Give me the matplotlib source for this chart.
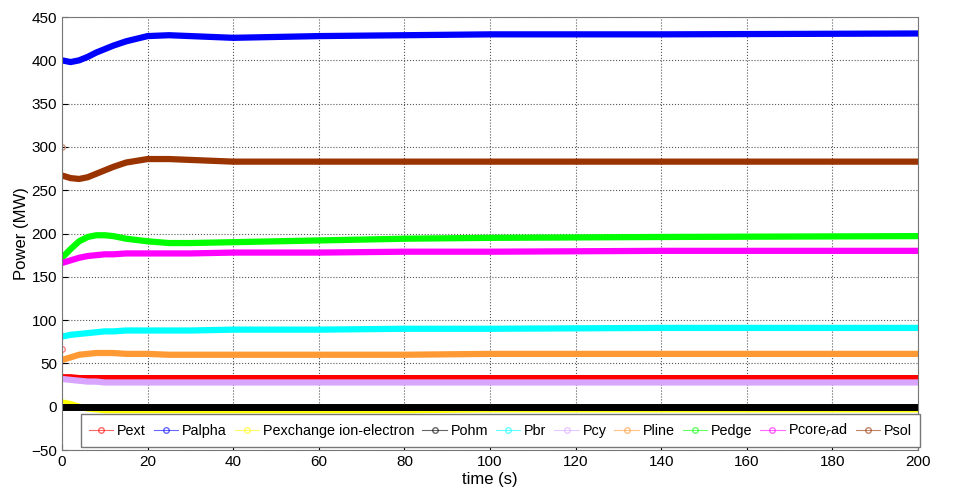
import matplotlib.pyplot as plt
from matplotlib.lines import Line2D

plt.rcParams['font.family'] = ['Liberation Sans', 'DejaVu Sans']

# time samples (s)
t = [0, 2, 4, 6, 8, 10, 12, 15, 20, 25, 30, 40, 60, 80, 100, 140, 200]

pext = [34, 34, 33, 33, 33, 33, 33, 33, 33, 33, 33, 33, 33, 33, 33, 33, 33]
palpha = [400, 398, 400, 404, 409, 413, 417, 422, 428, 429, 428, 426, 428, 429, 430, 430, 431]
pexchange = [5, 3, 0, -2, -3, -4, -4, -4, -4, -4, -4, -4, -4, -4, -3, -3, -3]
pohm = [0] * 17
pbr = [81, 83, 84, 85, 86, 87, 87, 88, 88, 88, 88, 89, 89, 90, 90, 91, 91]
pcy = [32, 31, 30, 29, 29, 28, 28, 28, 28, 28, 28, 28, 28, 28, 28, 28, 28]
pline = [54, 57, 60, 61, 62, 62, 62, 61, 61, 60, 60, 60, 60, 60, 61, 61, 61]
pedge = [172, 182, 191, 196, 198, 198, 197, 194, 191, 189, 189, 190, 192, 194, 195, 196, 197]
pcore_rad = [166, 169, 172, 174, 175, 176, 176, 177, 177, 177, 177, 178, 178, 179, 179, 180, 180]
psol = [267, 264, 263, 265, 269, 273, 277, 282, 286, 286, 285, 283, 283, 283, 283, 283, 283]

# first recorded values (t = 0) before the solver settles
pext_start = 67
psol_start = 300

labels = ['Pext', 'Palpha', 'Pexchange ion-electron', 'Pohm', 'Pbr', 'Pcy',
          'Pline', 'Pedge', 'Pcore$_{r}$ad', 'Psol']
colors = ['#ff0000', '#0000ff', '#ffff00', '#000000', '#00ffff', '#d9a6ff',
          '#ff9933', '#00ff00', '#ff00ff', '#993300']
series = [pext, palpha, pexchange, pohm, pbr, pcy, pline, pedge, pcore_rad, psol]

fig = plt.figure(figsize=(9.6, 4.91), dpi=100)
ax = fig.add_axes([0.0646, 0.0835, 0.8917, 0.8818])

ax.plot([0, 0], [pext_start, pext[0]], color='#ff0000', lw=0.8, alpha=0.5)
ax.plot([0], [pext_start], 'o', mfc='none', mec='#ff8080', ms=4)
ax.plot([0, 0], [psol_start, psol[0]], color='#993300', lw=0.8, alpha=0.5)
ax.plot([0], [psol_start], 'o', mfc='none', mec='#cc9980', ms=4)

for y, c in zip(series, colors):
    lw = 5 if c == '#000000' else 4.5
    ax.plot(t, y, color=c, lw=lw, solid_capstyle='round', solid_joinstyle='round')

ax.set_xlim(0, 200)
ax.set_ylim(-50, 450)
ax.set_xticks(range(0, 201, 20))
ax.set_yticks(range(-50, 451, 50))
ax.grid(True, linestyle=':', color='#555555', linewidth=0.8)
ax.tick_params(direction='in', labelsize=11, length=4)
for s in ax.spines.values():
    s.set_color('#777777')
ax.set_xlabel('time (s)', fontsize=12, labelpad=2)
ax.set_ylabel('Power (MW)', fontsize=12, labelpad=2)

handles = [Line2D([], [], color=c, lw=0.8, marker='o', mfc='none', ms=4, alpha=0.6)
           for c in colors]
leg = ax.legend(handles, labels, ncol=10, loc='lower center',
                bbox_to_anchor=(0.512, 0.007), fontsize=10.4, handlelength=1.7,
                handletextpad=0.25, columnspacing=0.55, fancybox=False,
                framealpha=1, borderpad=0.55, borderaxespad=0)
leg.get_frame().set_edgecolor('#777777')

fig.savefig('out.png')
